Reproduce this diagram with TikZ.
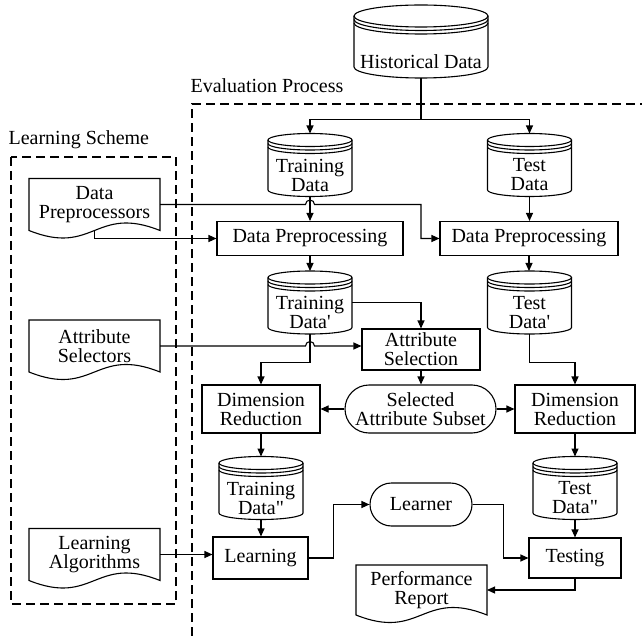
\documentclass[tikz,border=0pt]{standalone}
\usepackage{fontspec}
\setmainfont{Liberation Serif}[Ligatures=TeXOff]
\usepackage{tikz}
\usetikzlibrary{arrows.meta, shapes.misc}
\tikzstyle{proc} = [rectangle, draw, align=center, inner sep=0pt]
\tikzstyle{pill} = [rounded rectangle, draw, align=center, inner sep=0pt]
\tikzstyle{drum} = [rectangle, minimum width=84pt, minimum height=63pt, inner sep=0pt, outer sep=0pt]
\tikzstyle{paper} = [rectangle, minimum width=131pt, minimum height=52pt, align=center, inner sep=0pt, outer sep=0pt]
\tikzstyle{arrow} = [->]
\tikzstyle{frame} = [dash pattern=on 9pt off 5pt]
% database drum drawn round an empty node
\newcommand{\drum}[3]{%
  \draw ([yshift=-#3pt]#1.north) ellipse [x radius=#2pt, y radius=#3pt];
  \foreach \d in {3.5,7}
    \draw ([yshift={-(#3+\d)*1pt}]#1.north west) arc[start angle=180, end angle=360, x radius=#2pt, y radius=#3pt];
  \draw ([yshift=-#3pt]#1.north west) -- ([yshift=#3pt]#1.south west)
    arc[start angle=180, end angle=360, x radius=#2pt, y radius=#3pt] -- ([yshift=-#3pt]#1.north east);
}
% document with a wavy lower edge
\newcommand{\paper}[1]{%
  \draw (#1.south west) .. controls +(65pt,-26pt) and +(-65pt,26pt) .. (#1.south east)
    -- (#1.north east) -- (#1.north west) -- cycle;
}

\begin{document}
\begin{tikzpicture}[>={Triangle[length=8pt,width=7pt]}, x=1pt, y=-1pt, line width=1.1pt,
    font=\fontsize{20}{19}\selectfont]
    \useasboundingbox (0,0) rectangle (642,636);

    % frames
    \draw[frame] (11,157) rectangle (176,604);
    \draw[frame] (192,636) -- (192,104) -- (642,104);
    \node[anchor=base west, inner sep=0pt] (lscheme) at (8,145) {Learning Scheme};
    \node[anchor=base west, inner sep=0pt] (eproc) at (190,93) {Evaluation Process};

    % data stores
    \node[drum, minimum width=134pt, minimum height=73pt] (hist) at (421,41.5) {};
    \node[drum] (trd)  at (310,165)   {};
    \node[drum] (ted)  at (529.5,165) {};
    \node[drum] (trd1) at (310,302.5) {};
    \node[drum] (ted1) at (529.5,302.5) {};
    \node[drum] (trd2) at (261,488)   {};
    \node[drum] (ted2) at (575,488)   {};
    \drum{hist}{67}{11}
    \foreach \n in {trd,ted,trd1,ted1,trd2,ted2} {\drum{\n}{42}{6.5}}
    \node (hist-t) at ([yshift=-20pt]hist.center) {Historical Data};
    \node[align=center] (trd-t)  at ([yshift=-10pt]trd.center)  {Training\\Data};
    \node[align=center] (ted-t)  at ([yshift=-10pt]ted.center)  {Test\\Data};
    \node[align=center] (trd1-t) at ([yshift=-10pt]trd1.center) {Training\\Data'};
    \node[align=center] (ted1-t) at ([yshift=-10pt]ted1.center) {Test\\Data'};
    \node[align=center] (trd2-t) at ([yshift=-10pt]trd2.center) {Training\\Data"};
    \node[align=center] (ted2-t) at ([yshift=-10pt]ted2.center) {Test\\Data"};

    % learning scheme documents
    \node[paper] (dpp) at (94.5,204.5) {Data\\Preprocessors};
    \node[paper] (asl) at (94.5,346)   {Attribute\\Selectors};
    \node[paper] (lal) at (94.5,554.5) {Learning\\Algorithms};
    \node[paper, minimum height=50pt] (rep) at (421.5,590) {Performance\\Report};
    \foreach \n in {dpp,asl,lal,rep} {\paper{\n}}

    % steps
    \node[proc, minimum width=186pt, minimum height=34pt] (dpl) at (310,238.5) {Data Preprocessing};
    \node[proc, minimum width=178pt, minimum height=34pt] (dpr) at (529,238.5) {Data Preprocessing};
    \node[proc, minimum width=118pt, minimum height=41pt] (atsel) at (421,349.5) {Attribute\\Selection};
    \node[proc, minimum width=118pt, minimum height=48pt] (drl) at (261,409) {Dimension\\Reduction};
    \node[pill, minimum width=151pt, minimum height=48pt] (sas) at (420.5,409) {Selected\\Attribute Subset};
    \node[proc, minimum width=120pt, minimum height=48pt] (drr) at (575,409) {Dimension\\Reduction};
    \node[proc, minimum width=95pt, minimum height=42pt] (lrn) at (260.5,558) {Learning};
    \node[pill, minimum width=102pt, minimum height=43pt] (lrner) at (421,504.5) {Learner};
    \node[proc, minimum width=92pt, minimum height=40pt] (tst) at (575,558) {Testing};

    % flow
    \draw[arrow] (hist.south) |- ([yshift=14pt]trd.north) -- (trd.north);
    \draw[arrow] (hist.south) |- ([yshift=14pt]ted.north) -- (ted.north);
    \draw[arrow] (trd.south) -- (trd.south |- dpl.north);
    \draw[arrow] (ted.south) -- (ted.south |- dpr.north);
    \draw[arrow] (dpl.south) -- (dpl.south |- trd1.north);
    \draw[arrow] (dpr.south) -- (dpr.south |- ted1.north);
    \coordinate (hopA) at (trd.south |- dpp.east);
    \draw[arrow] (dpp.east) -- ([xshift=-4.5pt]hopA) arc[start angle=180, end angle=0, radius=4.5pt]
        -- (hist.south |- dpp.east) |- (dpr.west);
    \draw[arrow] (dpp.south) |- (dpl.west);
    \draw[arrow] (trd1.east) -| (atsel.north);
    \coordinate (hopB) at (trd1.south |- asl.east);
    \draw[arrow] (asl.east) -- ([xshift=-4.5pt]hopB) arc[start angle=180, end angle=0, radius=4.5pt]
        -- (atsel.west |- asl.east);
    \draw[arrow] (trd1.south) |- ([yshift=22pt]drl.north) -- (drl.north);
    \draw[arrow] (ted1.south) |- ([yshift=22pt]drr.north) -- (drr.north);
    \draw[arrow] (atsel.south) -- (atsel.south |- sas.north);
    \draw[arrow] (sas.west) -- (drl.east);
    \draw[arrow] (sas.east) -- (drr.west);
    \draw[arrow] (drl.south) -- (drl.south |- trd2.north);
    \draw[arrow] (drr.south) -- (drr.south |- ted2.north);
    \draw[arrow] (trd2.south) -- (trd2.south |- lrn.north);
    \draw[arrow] (lal.east) -- (lal.east -| lrn.west);
    \draw[arrow] (lrn.east) -- ++(25pt,0) |- (lrner.west);
    \draw[arrow] (lrner.east) -- ++(31pt,0) |- (tst.west);
    \draw[arrow] (ted2.south) -- (ted2.south |- tst.north);
    \draw[arrow] (tst.south) |- (rep.east);
\end{tikzpicture}
\end{document}
